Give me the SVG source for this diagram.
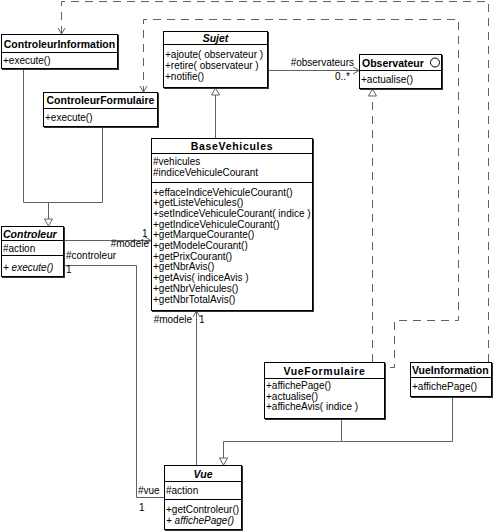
<svg xmlns="http://www.w3.org/2000/svg" width="494" height="531" viewBox="0 0 494 531">
<style>
text{font-family:"Liberation Sans",Arial,sans-serif;font-size:10px;fill:#000}
.t{font-weight:bold;font-size:10.5px}
.c{text-anchor:middle}
.r{text-anchor:end}
.i{font-style:italic}
.w{letter-spacing:0.7px}
.box{fill:#fff;stroke:#000;stroke-width:1}
.sh{fill:#333}
.sep{stroke:#000;stroke-width:1}
.ln{fill:none;stroke:#606060;stroke-width:1}
.dash{fill:none;stroke:#606060;stroke-width:1;stroke-dasharray:8,6}
</style>
<defs>
<marker id="open" markerUnits="userSpaceOnUse" orient="auto" overflow="visible" markerWidth="1" markerHeight="1"><path d="M-6,-3.5 L0,0 L-6,3.5" fill="none" stroke="#606060" stroke-dasharray="none"/></marker>
<marker id="tri" markerUnits="userSpaceOnUse" orient="auto" overflow="visible" markerWidth="1" markerHeight="1"><path d="M-7,-4 L0,0 L-7,4 Z" fill="#fff" stroke="#606060" stroke-dasharray="none"/></marker>
</defs>
<g id="connectors">
<path class="dash" d="M488.5,362 V1.5 H61.5 V34" marker-end="url(#open)"/>
<path class="dash" d="M390,367.5 H394.5 V320.5 H458.5 V19.5 H143.5 V92" marker-end="url(#open)"/>
<path class="dash" d="M372.5,362 V89" marker-end="url(#tri)"/>
<path class="ln" d="M23.5,69 V202.5 H102.5 V127"/>
<path class="ln" d="M48.5,202.5 V226" marker-end="url(#tri)"/>
<path class="ln" d="M64,240.5 H151" marker-end="url(#open)"/>
<path class="ln" d="M64,265.5 H136.5 V497.5 H164"/>
<path class="ln" d="M196.5,465 V311" marker-end="url(#open)"/>
<path class="ln" d="M215.5,138 V88" marker-end="url(#tri)"/>
<path class="ln" d="M268,70.5 H359" marker-end="url(#open)"/>
<path class="ln" d="M341.5,419 V441.5 H452.5 V397"/>
<path class="ln" d="M341.5,441.5 H223.5 V465" marker-end="url(#tri)"/>
<text x="142" y="237">1</text>
<text class="r" x="149" y="247">#modele</text>
<text x="66" y="259">#controleur</text>
<text x="66" y="273">1</text>
<text x="138" y="494">#vue</text>
<text x="139" y="511">1</text>
<text class="r" x="192" y="323">#modele</text>
<text x="199" y="323">1</text>
<text class="r" x="354" y="66">#observateurs</text>
<text x="335" y="80">0..*</text>
</g>
<g id="ControleurInformation">
<rect class="sh" x="2" y="35" width="117" height="35"/>
<rect class="box" x="1.5" y="34.5" width="116" height="34"/>
<line class="sep" x1="1.5" y1="52.5" x2="117.5" y2="52.5"/>
<text class="t c" x="59.5" y="47.5">ControleurInformation</text>
<text x="3" y="64">+execute()</text>
</g>
<g id="ControleurFormulaire">
<rect class="sh" x="44" y="93" width="115" height="35"/>
<rect class="box" x="43.5" y="92.5" width="114" height="34"/>
<line class="sep" x1="43.5" y1="108.5" x2="157.5" y2="108.5"/>
<text class="t c" x="100.5" y="104">ControleurFormulaire</text>
<text x="45" y="121">+execute()</text>
</g>
<g id="Sujet">
<rect class="sh" x="164" y="32" width="105" height="57"/>
<rect class="box" x="163.5" y="31.5" width="104" height="56"/>
<line class="sep" x1="163.5" y1="44.5" x2="267.5" y2="44.5"/>
<text class="t c i" x="215.5" y="41.5">Sujet</text>
<text x="165" y="57.5">+ajoute( observateur )</text>
<text x="165" y="68.5">+retire( observateur )</text>
<text x="165" y="79.5">+notifie()</text>
</g>
<g id="Observateur">
<rect class="sh" x="360" y="55" width="83" height="35"/>
<rect class="box" x="359.5" y="54.5" width="82" height="34"/>
<line class="sep" x1="359.5" y1="70.5" x2="441.5" y2="70.5"/>
<text class="t" x="362" y="66.5">Observateur</text>
<circle cx="435" cy="62.5" r="4.5" fill="#fff" stroke="#000"/>
<text x="361" y="83">+actualise()</text>
</g>
<g id="BaseVehicules">
<rect class="sh" x="152" y="139" width="162" height="173"/>
<rect class="box" x="151.5" y="138.5" width="161" height="172"/>
<line class="sep" x1="151.5" y1="153.5" x2="312.5" y2="153.5"/>
<line class="sep" x1="151.5" y1="182.5" x2="312.5" y2="182.5"/>
<text class="t c w" x="232" y="150">BaseVehicules</text>
<text x="153" y="164.5">#vehicules</text>
<text x="153" y="175.5">#indiceVehiculeCourant</text>
<text x="153" y="195.5">+effaceIndiceVehiculeCourant()</text>
<text x="153" y="206.2">+getListeVehicules()</text>
<text x="153" y="216.9">+setIndiceVehiculeCourant( indice )</text>
<text x="153" y="227.6">+getIndiceVehiculeCourant()</text>
<text x="153" y="238.3">+getMarqueCourante()</text>
<text x="153" y="249">+getModeleCourant()</text>
<text x="153" y="259.7">+getPrixCourant()</text>
<text x="153" y="270.4">+getNbrAvis()</text>
<text x="153" y="281.1">+getAvis( indiceAvis )</text>
<text x="153" y="291.8">+getNbrVehicules()</text>
<text x="153" y="302.5">+getNbrTotalAvis()</text>
</g>
<g id="Controleur">
<rect class="sh" x="2" y="227" width="63" height="51"/>
<rect class="box" x="1.5" y="226.5" width="62" height="50"/>
<line class="sep" x1="1.5" y1="240.5" x2="63.5" y2="240.5"/>
<line class="sep" x1="1.5" y1="255.5" x2="63.5" y2="255.5"/>
<text class="t i" x="3" y="237.5">Controleur</text>
<text x="3" y="251.5">#action</text>
<text class="i" x="3" y="271">+ execute()</text>
</g>
<g id="VueFormulaire">
<rect class="sh" x="265" y="363" width="121" height="57"/>
<rect class="box" x="264.5" y="362.5" width="120" height="56"/>
<line class="sep" x1="264.5" y1="378.5" x2="384.5" y2="378.5"/>
<text class="t c w" x="324.5" y="374.5">VueFormulaire</text>
<text x="266" y="389">+affichePage()</text>
<text x="266" y="399.5">+actualise()</text>
<text x="266" y="410">+afficheAvis( indice )</text>
</g>
<g id="VueInformation">
<rect class="sh" x="411" y="363" width="82" height="35"/>
<rect class="box" x="410.5" y="362.5" width="81" height="34"/>
<line class="sep" x1="410.5" y1="377.5" x2="491.5" y2="377.5"/>
<text class="t" x="412" y="374">VueInformation</text>
<text x="412" y="389.5">+affichePage()</text>
</g>
<g id="Vue">
<rect class="sh" x="165" y="466" width="78" height="65"/>
<rect class="box" x="164.5" y="465.5" width="77" height="64"/>
<line class="sep" x1="164.5" y1="481.5" x2="241.5" y2="481.5"/>
<line class="sep" x1="164.5" y1="499.5" x2="241.5" y2="499.5"/>
<text class="t c i" x="203" y="477.5">Vue</text>
<text x="166" y="494">#action</text>
<text x="166" y="512.5">+getControleur()</text>
<text class="i" x="166" y="523.5">+ affichePage()</text>
</g>
</svg>
